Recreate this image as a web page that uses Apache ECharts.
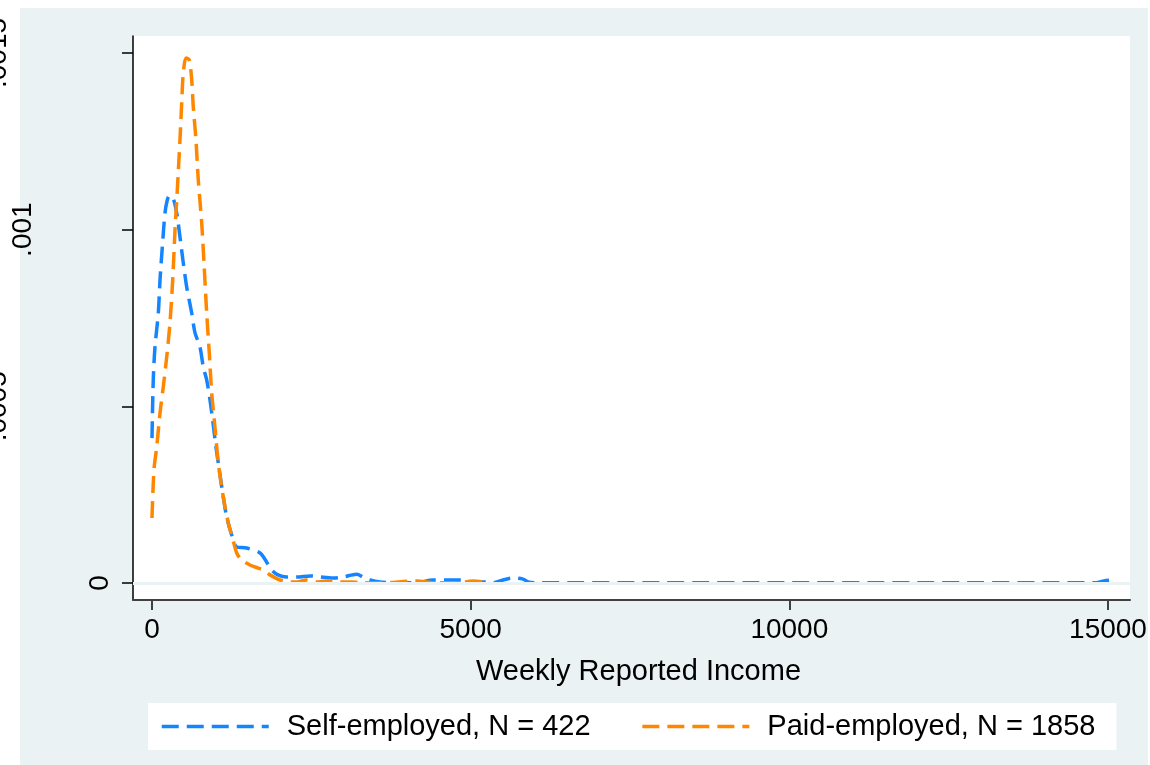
<!DOCTYPE html>
<html>
<head>
<meta charset="utf-8">
<title>Weekly Reported Income – kernel density</title>
<script src="https://cdn.jsdelivr.net/npm/echarts@6/dist/echarts.min.js"></script>
<style>
  html, body { margin: 0; padding: 0; background: #ffffff; }
  #chart { width: 1150px; height: 765px; }
</style>
</head>
<body>
<div id="chart"></div>
<script>
// Kernel density of weekly reported income, self-employed
const incomeSelf = [0, 20, 47, 99, 126, 162, 204, 240, 271, 325, 388, 439, 491, 544, 623, 675, 753, 805, 858, 910, 952, 1004, 1056, 1119, 1172, 1251, 1329, 1486, 1695, 1800, 1878, 1977, 2114, 2270, 2479, 2636, 2840, 2997, 3212, 3311, 3421, 3577, 3891, 4153, 4409, 4676, 4833, 5037, 5194, 5350, 5508, 5664, 5821, 5900, 6041, 8000, 10000, 12000, 14812, 14937, 15058];
const densitySelf = [0.000410, 0.000575, 0.000668, 0.000764, 0.000858, 0.000951, 0.001047, 0.001084, 0.001095, 0.001092, 0.001047, 0.000979, 0.000906, 0.000838, 0.000764, 0.000708, 0.000668, 0.000611, 0.000575, 0.000518, 0.000461, 0.000385, 0.000320, 0.000243, 0.000187, 0.000136, 0.000102, 0.000099, 0.000085, 0.000059, 0.000037, 0.000023, 0.000017, 0.000017, 0.000020, 0.000017, 0.000014, 0.000017, 0.000025, 0.000017, 0.0000085, 0.000003, 0.0000005, 0.000001, 0.0000085, 0.0000085, 0.0000085, 0.000003, 0.000003, 0.0000005, 0.0000085, 0.000014, 0.000011, 0.000003, 0.0000005, 0.0000005, 0.0000005, 0.0000005, 0.0000005, 0.000006, 0.0000085];

// Kernel density of weekly reported income, paid-employed
const incomePaid = [0, 31, 74, 126, 177, 231, 282, 325, 361, 397, 439, 466, 491, 534, 585, 623, 648, 690, 726, 780, 816, 858, 899, 937, 988, 1040, 1119, 1197, 1271, 1329, 1407, 1538, 1668, 1742, 1851, 2008, 2165, 2270, 2427, 2584, 2741, 2950, 3107, 3264, 3577, 4153, 4409, 4833, 5037, 5194];
const densityPaid = [0.000184, 0.000320, 0.000385, 0.000481, 0.000555, 0.000640, 0.000736, 0.000858, 0.000999, 0.001112, 0.001254, 0.001358, 0.001443, 0.001486, 0.001480, 0.001424, 0.001347, 0.001254, 0.001141, 0.001019, 0.000906, 0.000764, 0.000651, 0.000538, 0.000441, 0.000340, 0.000243, 0.000170, 0.000122, 0.000085, 0.000065, 0.000051, 0.000042, 0.000037, 0.000023, 0.0000085, 0.000003, 0.000003, 0.0000085, 0.000003, 0.000006, 0.000003, 0.000003, 0.000001, 0.0, 0.000006, 0.000001, 0.000001, 0.000006, 0.000003];

const seriesNames = ['Self-employed, N = 422', 'Paid-employed, N = 1858'];
const xTicks = [0, 5000, 10000, 15000];
const yTicks = [0, 0.0005, 0.001, 0.0015];
const yTickLabels = ['0', '.0005', '.001', '.0015'];
const xTitle = 'Weekly Reported Income';

const FONT = '"Liberation Sans", Arial, Helvetica, sans-serif';
const BLUE = '#1485ff';
const ORANGE = '#ff8700';
const PANEL = '#eaf2f3';
const DASH = [17, 8];

function pairs(xs, ys) {
  return xs.map((x, i) => [x, ys[i]]);
}

// Each vertical tick label gets its own line box depth, pushing it away from the axis
const labelDepth = [28, 232, 182, 232];
const yRich = {};
yTickLabels.forEach((t, i) => {
  yRich['l' + i] = { fontSize: 28, fontFamily: FONT, color: '#000', lineHeight: labelDepth[i] };
});

const chart = echarts.init(document.getElementById('chart'), null, { renderer: 'canvas' });

chart.setOption({
  animation: false,
  backgroundColor: '#ffffff',
  graphic: [{
    type: 'rect',
    z: -100,
    shape: { x: 20, y: 8, width: 1128, height: 757 },
    style: { fill: PANEL },
    silent: true
  }],
  grid: {
    left: 133, top: 36, right: 20, bottom: 165,
    outerBoundsMode: 'none',
    containLabel: false,
    show: true, backgroundColor: '#ffffff', borderWidth: 0
  },
  legend: {
    data: seriesNames,
    left: 148, top: 703,
    orient: 'horizontal',
    backgroundColor: '#ffffff',
    padding: [9, 21, 9, 12],
    itemGap: 50,
    itemWidth: 107,
    itemHeight: 14,
    selectedMode: false,
    itemStyle: { opacity: 0, borderWidth: 0 },
    lineStyle: { width: 3.5, type: DASH },
    textStyle: { fontSize: 29, fontFamily: FONT, color: '#000', padding: [0, 0, 0, 13] }
  },
  xAxis: {
    type: 'value',
    min: -298, max: 15345,
    name: xTitle,
    nameLocation: 'middle',
    nameGap: 57,
    nameTextStyle: { fontSize: 29, fontFamily: FONT, color: '#000', padding: [0, 0, 0, 14] },
    axisLine: { onZero: false, lineStyle: { color: '#404040', width: 2 } },
    axisTick: { customValues: xTicks, length: 10, lineStyle: { color: '#404040', width: 2 } },
    axisLabel: {
      customValues: xTicks, margin: 16, fontSize: 28, fontFamily: FONT, color: '#000',
      formatter: v => String(v)
    },
    splitLine: { show: false }
  },
  yAxis: {
    type: 'value',
    min: -0.0000481, max: 0.001548,
    axisLine: { onZero: false, lineStyle: { color: '#000', width: 1.5 } },
    axisTick: { customValues: yTicks, length: 11, lineStyle: { color: '#000', width: 1.5 } },
    axisLabel: {
      customValues: yTicks, rotate: 90, margin: 19,
      formatter: v => {
        const i = yTicks.findIndex(t => Math.abs(t - v) < 1e-10);
        return i < 0 ? '' : '{l' + i + '|' + yTickLabels[i] + '}';
      },
      rich: yRich
    },
    splitLine: { show: false }
  },
  series: [
    {
      // horizontal reference lines at each labelled density
      type: 'line',
      data: [],
      silent: true,
      z: 1,
      markLine: {
        silent: true,
        symbol: ['none', 'none'],
        label: { show: false },
        lineStyle: { color: PANEL, width: 2.5, type: 'solid' },
        emphasis: { disabled: true },
        data: yTicks.map(v => ({ yAxis: v }))
      }
    },
    {
      name: seriesNames[0],
      type: 'line',
      data: pairs(incomeSelf, densitySelf),
      showSymbol: false, symbol: 'none',
      smooth: 0.3,
      z: 3,
      color: BLUE,
      lineStyle: { color: BLUE, width: 3.5, type: DASH }
    },
    {
      name: seriesNames[1],
      type: 'line',
      data: pairs(incomePaid, densityPaid),
      showSymbol: false, symbol: 'none',
      smooth: 0.3,
      z: 4,
      color: ORANGE,
      lineStyle: { color: ORANGE, width: 3.5, type: DASH }
    }
  ]
});
</script>
</body>
</html>
